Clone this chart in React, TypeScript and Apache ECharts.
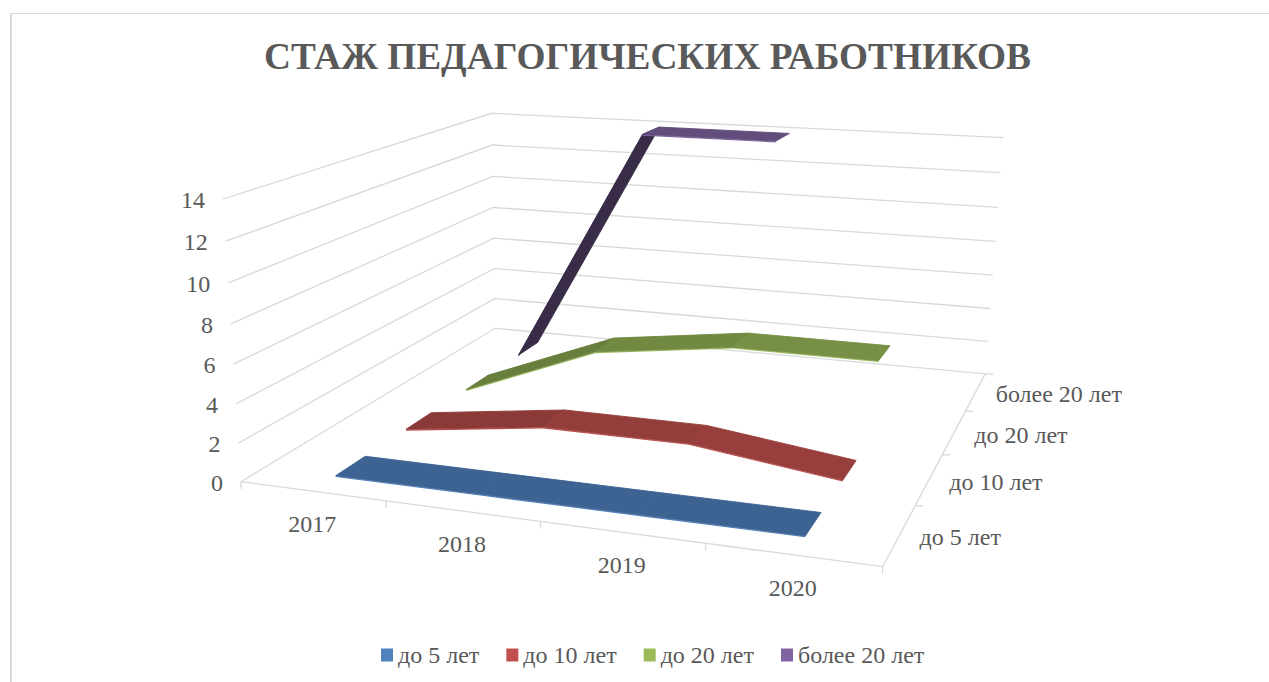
import React, { useEffect, useRef } from "react";
import * as echarts from "echarts";

const years = ["2017", "2018", "2019", "2020"];
const seriesNames = ["до 5 лет", "до 10 лет", "до 20 лет", "более 20 лет"];
const valueTicks = [0, 2, 4, 6, 8, 10, 12, 14];
const v5 = [0, 0, 0, 0];
const v10 = [0, 1, 1, 0];
const v20 = [0, 3, 4, 4];
const v20plus: (number | null)[] = [0, 14, 14, null];
const seriesValues = [v5, v10, v20, v20plus];
const colors = ["#4f81bd", "#c0504d", "#9bbb59", "#8064a2"];

const FONT = "'Liberation Serif'";
const TEXT = "#595959";
const LINE = "#d9d9d9";
const AXIS_FONT = 24;

// perspective box: images of the floor origin and the three axis ends, with homogeneous weights
const O = [241, 481.7];
const X = [882.7, 566.7];
const Y = [223, 199];
const Z = [495, 328.3];
const wx = 0.875;
const wy = 0.949;
const wz = 1.335;
const RIBBON = 0.05;

function project(u: number, v: number, t: number): [number, number] {
  const h = (k: number) =>
    O[k] + u * (wx * X[k] - O[k]) + v * (wy * Y[k] - O[k]) + t * (wz * Z[k] - O[k]);
  const w = 1 + u * (wx - 1) + v * (wy - 1) + t * (wz - 1);
  return [h(0) / w, h(1) / w];
}

function shade(hex: string, f: number) {
  const n = parseInt(hex.slice(1), 16);
  const c = (s: number) => Math.round(((n >> s) & 255) * f);
  return `rgb(${c(16)},${c(8)},${c(0)})`;
}

function segmentFactor(dv: number) {
  if (dv > 0) return 0.77 - 0.04 * Math.pow(dv, 0.8);
  if (dv < 0) return 0.79;
  return 0.77;
}

function norm(params: any, api: any, cat: number, val: number): [number, number] {
  const cs = params.coordSys;
  const p = api.coord([cat, val]);
  return [(p[0] - cs.x) / cs.width, (cs.y + cs.height - p[1]) / cs.height];
}

function label(x: number, y: number, text: string, align: string) {
  return {
    type: "text",
    x,
    y,
    silent: true,
    style: { text, fontSize: AXIS_FONT, fontFamily: FONT, fill: TEXT, align, verticalAlign: "middle" },
  };
}

function line(a: [number, number], b: [number, number], width = 1.3) {
  return {
    type: "line",
    silent: true,
    shape: { x1: a[0], y1: a[1], x2: b[0], y2: b[1] },
    style: { stroke: LINE, lineWidth: width, fill: "none" },
  };
}

function renderValueTick(params: any, api: any) {
  const val = api.value(1);
  const [, v] = norm(params, api, 0, val);
  const front = project(0, v, 0);
  const back = project(0, v, 1);
  const right = project(1, v, 1);
  return {
    type: "group",
    children: [
      { type: "polyline", silent: true, shape: { points: [front, back, right] }, style: { stroke: LINE, lineWidth: 1.3, fill: "none" } },
      label(front[0] - 18, front[1] + 1, String(val), "right"),
    ],
  };
}

function renderYearTick(params: any, api: any) {
  const i = api.value(0);
  const [u] = norm(params, api, i, 0);
  const mid = project(u, 0, 0);
  const cell = 1 / years.length;
  const start = project(u - cell / 2, 0, 0);
  const children: any[] = [
    line([start[0], start[1]], [start[0], start[1] + 7]),
    label(mid[0], mid[1] + 33, years[i], "center"),
  ];
  if (i === years.length - 1) {
    const end = project(u + cell / 2, 0, 0);
    const back = project(1, 0, 1);
    children.push(line(project(0, 0, 0), end));
    children.push(line(end, back));
    children.push(line(end, [end[0], end[1] + 7]));
  }
  return { type: "group", children };
}

function renderDepthTick(params: any, api: any) {
  const i = api.value(0);
  const n = seriesNames.length;
  const a = project(1, 0, (i + 1) / n);
  const m = project(1, 0, (i + 0.5) / n);
  return {
    type: "group",
    children: [
      line(a, [a[0] + 8, a[1]]),
      label(m[0] + 20, m[1] + 2.5, seriesNames[i], "left"),
    ],
  };
}

function renderSegment(row: number) {
  return (params: any, api: any) => {
    const i0 = api.value(0);
    const a = api.value(1);
    const i1 = api.value(2);
    const b = api.value(3);
    const [u0, v0] = norm(params, api, i0, a);
    const [u1, v1] = norm(params, api, i1, b);
    const t = (row + 0.5) / seriesNames.length;
    const f0 = project(u0, v0, t - RIBBON);
    const b0 = project(u0, v0, t + RIBBON);
    const f1 = project(u1, v1, t - RIBBON);
    const b1 = project(u1, v1, t + RIBBON);
    const fill = shade(colors[row], segmentFactor(b - a));
    return {
      type: "group",
      children: [
        {
          type: "line",
          silent: true,
          shape: { x1: f0[0], y1: f0[1] + 0.8, x2: f1[0], y2: f1[1] + 0.8 },
          style: { stroke: colors[row], lineWidth: 1.1 },
        },
        {
          type: "polygon",
          silent: true,
          shape: { points: [f0, b0, b1, f1] },
          style: { fill, stroke: fill, lineWidth: 0.9, lineJoin: "round" },
        },
      ],
    };
  };
}

function segments(values: (number | null)[]) {
  const rows: number[][] = [];
  for (let i = 0; i + 1 < values.length; i++) {
    const a = values[i];
    const b = values[i + 1];
    if (a != null && b != null) rows.push([i, a, i + 1, b]);
  }
  return rows;
}

export default function App() {
  const ref = useRef<HTMLDivElement>(null);
  useEffect(() => {
    document.body.style.margin = "0";
    const chart = echarts.init(ref.current!, undefined, { renderer: "svg" });
    const base = { type: "custom", silent: true, clip: false, coordinateSystem: "cartesian2d" };
    chart.setOption({
      animation: false,
      backgroundColor: "#ffffff",
      title: {
        text: "СТАЖ ПЕДАГОГИЧЕСКИХ РАБОТНИКОВ",
        left: 642.5,
        top: 33,
        textAlign: "center",
        textStyle: { fontFamily: FONT, fontWeight: "bold", fontSize: 37.3, color: TEXT },
      },
      legend: {
        data: seriesNames,
        left: 381,
        top: 643,
        padding: 0,
        itemWidth: 12,
        itemHeight: 13,
        itemGap: 27,
        icon: "rect",
        selectedMode: false,
        textStyle: { fontFamily: FONT, fontSize: AXIS_FONT, color: TEXT, padding: 0 },
      },
      grid: { left: 0, top: 0, right: 0, bottom: 0, show: false },
      xAxis: { type: "category", data: years, show: false },
      yAxis: { type: "value", min: 0, max: 14, show: false },
      graphic: [
        { type: "line", silent: true, shape: { x1: 10.5, y1: 13.5, x2: 1269, y2: 13.5 }, style: { stroke: LINE, lineWidth: 1 } },
        { type: "line", silent: true, shape: { x1: 11, y1: 13, x2: 11, y2: 682 }, style: { stroke: LINE, lineWidth: 2 } },
      ],
      series: [
        { ...base, name: "value axis", data: valueTicks.map((v) => [0, v]), renderItem: renderValueTick, z: 1 },
        { ...base, name: "year axis", data: years.map((_, i) => [i, 0]), renderItem: renderYearTick, z: 1 },
        { ...base, name: "depth axis", data: seriesNames.map((_, i) => [i, 0]), renderItem: renderDepthTick, z: 1 },
        ...[3, 2, 1, 0].map((row) => ({
          ...base,
          name: seriesNames[row],
          itemStyle: { color: colors[row] },
          data: segments(seriesValues[row]),
          renderItem: renderSegment(row),
          z: 5 - row,
        })),
      ],
    });
    return () => chart.dispose();
  }, []);
  return <div ref={ref} style={{ position: "absolute", left: 0, top: 0, width: 1269, height: 682 }} />;
}
